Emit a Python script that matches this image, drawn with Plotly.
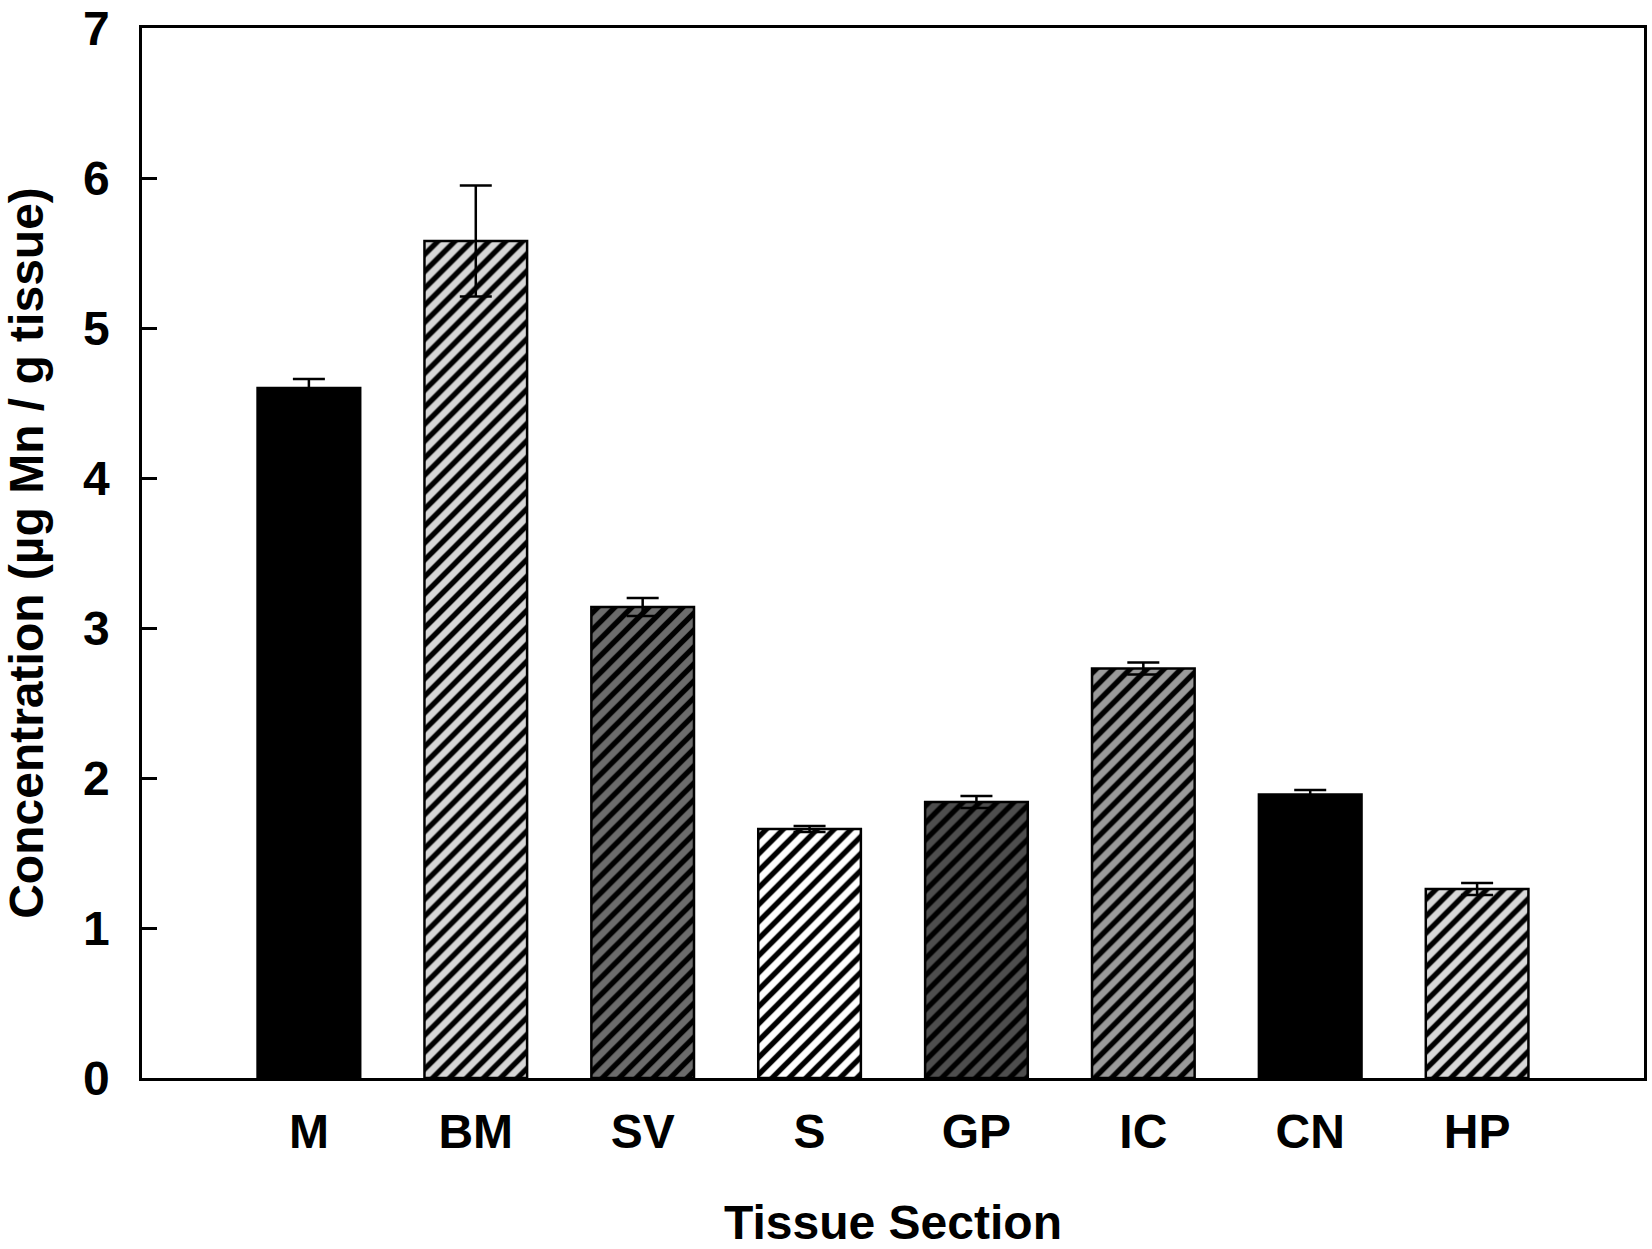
import plotly.graph_objects as go

categories = ["M", "BM", "SV", "S", "GP", "IC", "CN", "HP"]
concentration = [4.60, 5.58, 3.14, 1.66, 1.84, 2.73, 1.89, 1.26]
sem = [0.06, 0.37, 0.06, 0.02, 0.04, 0.04, 0.03, 0.04]

fill_colors = ["#000000", "#d6d6d6", "#6c6c6c", "#ffffff", "#4e4e4e", "#9a9a9a", "#000000", "#d8d8d8"]
shapes = ["", "/", "/", "/", "/", "/", "", "/"]

FONT = "Liberation Sans, Arial, sans-serif"

fig = go.Figure()
fig.add_trace(go.Bar(
    x=categories,
    y=concentration,
    width=0.615,
    marker=dict(
        color="black",
        line=dict(color="black", width=2.5),
        pattern=dict(shape=shapes, fillmode="replace", bgcolor=fill_colors,
                     fgcolor="black", fgopacity=1, size=12, solidity=0.45),
    ),
    error_y=dict(type="data", array=sem, visible=True, color="black",
                 thickness=2.5, width=16),
    showlegend=False,
))

fig.update_layout(
    width=1652, height=1249,
    margin=dict(l=142, r=8, t=28, b=171, autoexpand=False),
    paper_bgcolor="white", plot_bgcolor="white",
    font=dict(family=FONT, size=48, color="black", weight="bold"),
    xaxis=dict(
        type="category",
        range=[-1, 8],
        showline=True, linecolor="black", linewidth=2.5, mirror=True,
        ticks="", showgrid=False, zeroline=False,
        ticklabelstandoff=10,
        tickfont=dict(family=FONT, size=48, color="black", weight="bold"),
        title=dict(text="Tissue Section", standoff=50,
                   font=dict(family=FONT, size=48, color="black", weight="bold")),
    ),
    yaxis=dict(
        range=[0, 7], dtick=1, tick0=0,
        showline=True, linecolor="black", linewidth=2.5, mirror=True,
        ticks="inside", ticklen=15, tickwidth=2.5, tickcolor="black",
        showgrid=False, zeroline=False,
        ticklabelstandoff=20,
        tickfont=dict(family=FONT, size=48, color="black", weight="bold"),
        title=dict(text="Concentration (µg Mn / g tissue)", standoff=56,
                   font=dict(family=FONT, size=48, color="black", weight="bold")),
    ),
)

fig.write_html("out.html", config={"displayModeBar": False},
               post_script="document.body.style.margin='0';document.body.style.overflow='hidden';")
